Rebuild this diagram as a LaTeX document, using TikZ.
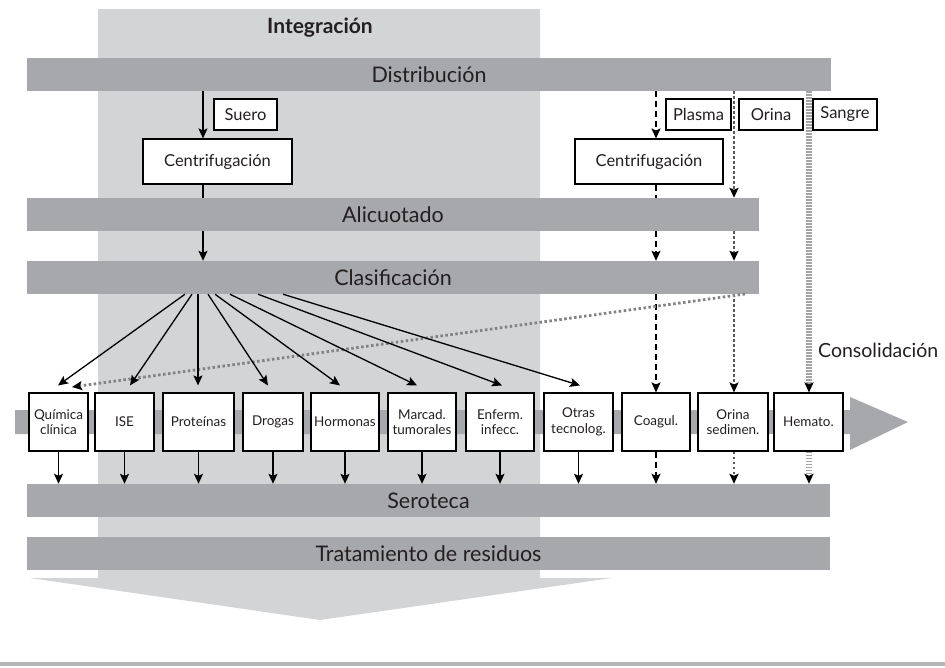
\documentclass[tikz,border=0pt]{standalone}
\usepackage{fontspec}
\setmainfont{Lato}
\usetikzlibrary{arrows.meta,calc}
\definecolor{colc}{HTML}{D3D4D6}
\definecolor{barc}{HTML}{A7A8AB}
\definecolor{txt}{HTML}{231F20}
\definecolor{dotc}{HTML}{58595B}
\definecolor{diagc}{HTML}{808285}
\definecolor{thickc}{HTML}{A3A4A6}
\newcommand{\barfont}{\fontsize{21.5}{24}\selectfont}
\newcommand{\boxfont}{\fontsize{13.5}{15.5}\selectfont}
\newcommand{\topboxfont}{\fontsize{16.5}{18}\selectfont}
\tikzset{
  bar/.style={fill=barc, minimum height=33pt, inner sep=0pt, font=\barfont, text=txt},
  box/.style={draw=black, fill=white, line width=1.1pt, inner sep=0pt, font=\boxfont, align=center, text=txt},
  topbox/.style={box, font=\topboxfont},
  rowbox/.style={box, minimum height=58pt},
  arr/.style={-{Stealth[length=10pt,width=9pt,inset=2pt,color=black]}, line width=1.3pt, draw=black},
  plain/.style={line width=1.3pt, draw=black},
  dsh/.style={dash pattern=on 6pt off 4pt, line width=1.5pt},
  dtt/.style={draw=dotc, dash pattern=on 2.5pt off 2.5pt, line width=2.6pt},
  dgl/.style={draw=diagc, dash pattern=on 2.5pt off 2.5pt, line width=2.8pt},
  thk/.style={draw=thickc, dash pattern=on 1.6pt off 1.4pt, line width=6pt},
}
\begin{document}
\begin{tikzpicture}[x=1pt,y=-1pt]
\useasboundingbox (0,0) rectangle (945,667);
% integration column with arrow
\fill[colc] (98,9) -- (540,9) -- (540,578) -- (612,578) -- (320,620) -- (30,578) -- (98,578) -- cycle;
\node[font=\fontsize{21}{23}\selectfont\bfseries, text=txt] (integ) at (320,28) {Integración};
% bottom line
\fill[barc!85] (0,662) rectangle (945,666);
% consolidation band arrow
\fill[barc] (15,410) -- (850,410) -- (850,397) -- (908,422) -- (850,450) -- (850,434) -- (15,434) -- cycle;

% bars
\node[bar, minimum width=804pt] (dist) at (429,74.5) {Distribución};
\node[bar, minimum width=732pt] (alic) at (393,214.5) {Alicuotado};
\node[bar, minimum width=732pt] (clas) at (393,277.5) {Clasificación};
\node[bar, minimum width=803pt] (sero) at (428.5,500.5) {Seroteca};
\node[bar, minimum width=803pt] (trat) at (428.5,553.5) {Tratamiento de residuos};

% top boxes
\node[topbox, minimum width=63pt, minimum height=31pt] (suero) at (245.5,114.5) {Suero};
\node[topbox, minimum width=149pt, minimum height=45pt] (cenA) at (217.5,161.5) {Centrifugación};
\node[topbox, minimum width=148pt, minimum height=45pt] (cenB) at (649,161.5) {Centrifugación};
\node[topbox, minimum width=65pt, minimum height=31pt] (plasma) at (698.5,114.5) {Plasma};
\node[topbox, minimum width=64pt, minimum height=31pt] (orina) at (771,114.5) {Orina};
\node[topbox, minimum width=64pt, minimum height=31pt] (sangre) at (845,114.5) {Sangre};

% row boxes
\node[rowbox, minimum width=59pt] (qc) at (58.5,422) {Química\\clínica};
\node[rowbox, minimum width=59pt] (ise) at (124.5,422) {ISE};
\node[rowbox, minimum width=71pt] (prot) at (198.5,422) {Proteínas};
\node[rowbox, minimum width=60pt] (drog) at (273,422) {Drogas};
\node[rowbox, minimum width=68pt] (horm) at (345,422) {Hormonas};
\node[rowbox, minimum width=68pt] (marc) at (422,422) {Marcad.\\tumorales};
\node[rowbox, minimum width=68pt] (enf) at (500,422) {Enferm.\\infecc.};
\node[rowbox, minimum width=69pt] (otras) at (578.5,422) {Otras\\tecnolog.};
\node[rowbox, minimum width=68pt] (coag) at (656,422) {Coagul.};
\node[rowbox, minimum width=70pt] (orsed) at (733,422) {Orina\\sedimen.};
\node[rowbox, minimum width=69pt] (hema) at (808.5,422) {Hemato.};

\node[font=\fontsize{19.5}{22}\selectfont, text=txt, anchor=west, inner sep=0pt] (consol) at (818,350) {Consolidación};

% serum path
\coordinate (sx) at (203,0);
\draw[arr] (dist.south -| sx) -- (cenA.north -| sx);
\draw[plain] (cenA.south -| sx) -- (alic.north -| sx);
\draw[arr] (alic.south -| sx) -- (clas.north -| sx);

% plasma path (dashed)
\coordinate (px) at (656,0);
\draw[arr,dsh] (dist.south -| px) -- (cenB.north -| px);
\draw[plain,dsh] (cenB.south -| px) -- (alic.north -| px);
\draw[arr,dsh] (alic.south -| px) -- (clas.north -| px);
\draw[arr,dsh] (clas.south -| px) -- (coag.north);
\draw[arr,dsh] (coag.south) -- (sero.north -| coag);

% urine path (dotted)
\coordinate (ox) at (734,0);
\draw[arr,dtt] (dist.south -| ox) -- (alic.north -| ox);
\draw[arr,dtt] (alic.south -| ox) -- (clas.north -| ox);
\draw[arr,dtt] (clas.south -| ox) -- (orsed.north -| ox);
\draw[arr,dtt] (orsed.south -| ox) -- (sero.north -| ox);

% blood path (thick gray)
\coordinate (hx) at (809,0);
\draw[arr,thk] (dist.south -| hx) -- (hema.north -| hx);
\draw[arr,thk] (hema.south -| hx) -- (sero.north -| hx);

% dotted diagonal from Clasificación back to Química clínica
\coordinate (dgs) at (745,294);
\coordinate (dge) at (72,387);
\draw[arr,dgl] (dgs) -- (dge);

% fan from Clasificación
\foreach \sxx/\tg/\tx in {185/qc/58, 192/ise/130, 198/prot/198, 208/drog/268, 215/horm/340, 230/marc/417, 258/enf/502, 283/otras/580}{
  \coordinate (fs) at (\sxx,0);
  \coordinate (ft) at (\tx,0);
  \draw[arr] (clas.south -| fs) -- ($(\tg.north -| ft)+(0,-7)$);
}

% arrows down to Seroteca (solid)
\foreach \b in {qc,ise,prot,drog,horm,marc,enf,otras}{
  \draw[arr] (\b.south) -- (sero.north -| \b);
}
\end{tikzpicture}
\end{document}
